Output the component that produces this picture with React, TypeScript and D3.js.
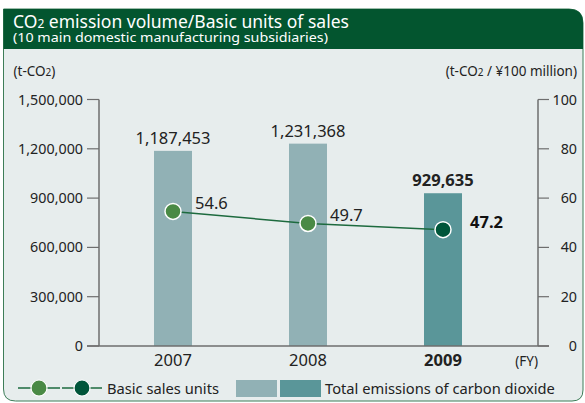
import React from "react";
import * as d3 from "d3";

const years = ["2007", "2008", "2009"];
const emissions = [1187453, 1231368, 929635];
const basicUnits = [54.6, 49.7, 47.2];
const leftTicks = [0, 300000, 600000, 900000, 1200000, 1500000];
const rightTicks = [0, 20, 40, 60, 80, 100];

const W = 585;
const H = 403;
const FONT = "'Noto Sans', 'DejaVu Sans', sans-serif";
const HEADER = "#03552f";
const PANEL = "#e7eded";
const BAR_LIGHT = "#91b1b5";
const BAR_DARK = "#5a9699";
const DOT_LIGHT = "#4a8a45";
const DOT_DARK = "#00553a";
const LINE = "#1d6a3e";
const AXIS = "#6e6e6e";
const TEXT = "#222";

const plotLeft = 99;
const plotRight = 538;
const plotTop = 99.5;
const plotBottom = 346;

export default function App() {
  const x = d3.scalePoint<string>().domain(years).range([plotLeft + 74, plotRight - 95]);
  const yL = d3.scaleLinear().domain([0, 1500000]).range([plotBottom, plotTop]);
  const yR = d3.scaleLinear().domain([0, 100]).range([plotBottom, plotTop]);
  const fmt = d3.format(",");
  const barW = 38;
  const last = years.length - 1;

  const line = d3
    .line<number>()
    .x((_, i) => x(years[i]) as number)
    .y((d) => yR(d));

  const panelPath = `M3.5,9 H569 Q583,9 583,23 V390 Q583,401 572,401 H15.5 Q3.5,401 3.5,389 Z`;
  const headerPath = `M3.5,9 H569 Q583,9 583,23 V49 H3.5 Z`;

  return (
    <svg width={W} height={H} style={{ position: "absolute", left: 0, top: 0, background: "#fff" }} fontFamily={FONT}>
      <path d={panelPath} fill={PANEL} stroke="#3d7d58" strokeWidth={1} />
      <path d={headerPath} fill={HEADER} />
      <text x={13} y={28} fill="#fff" fontSize={17.5}>
        CO<tspan fontSize={12}>2</tspan> emission volume/Basic units of sales
      </text>
      <text x={13} y={42} fill="#fff" fontSize={12.5} textLength={315} lengthAdjust="spacingAndGlyphs">
        (10 main domestic manufacturing subsidiaries)
      </text>

      {/* unit labels */}
      <text x={13.5} y={75.5} fill={TEXT} fontSize={13.5}>
        (t-CO<tspan fontSize={10}>2</tspan>)
      </text>
      <text x={577} y={75.5} fill={TEXT} fontSize={13.5} textAnchor="end">
        (t-CO<tspan fontSize={10}>2</tspan> / ¥100 million)
      </text>

      {/* bars */}
      {years.map((yr, i) => (
        <rect
          key={yr}
          x={(x(yr) as number) - barW / 2}
          y={yL(emissions[i])}
          width={barW}
          height={plotBottom - yL(emissions[i])}
          fill={i === last ? BAR_DARK : BAR_LIGHT}
        />
      ))}
      {years.map((yr, i) => (
        <text
          key={"bl" + yr}
          x={x(yr) as number}
          y={yL(emissions[i]) - 7}
          textAnchor="middle"
          fontSize={16.5}
          fontWeight={i === last ? "bold" : "normal"}
          fill={TEXT}
        >
          {fmt(emissions[i])}
        </text>
      ))}

      {/* left axis */}
      <line x1={plotLeft} x2={plotLeft} y1={plotTop} y2={plotBottom} stroke={AXIS} strokeWidth={1.5} />
      {leftTicks.map((t) => (
        <g key={"lt" + t}>
          <line x1={plotLeft - 12} x2={plotLeft} y1={yL(t)} y2={yL(t)} stroke={AXIS} strokeWidth={1.2} />
          <text x={plotLeft - 16} y={yL(t) + 5} textAnchor="end" fontSize={14.3} fill={TEXT}>
            {fmt(t)}
          </text>
        </g>
      ))}

      {/* right axis */}
      <line x1={plotRight} x2={plotRight} y1={plotTop} y2={plotBottom} stroke={AXIS} strokeWidth={1.5} />
      {rightTicks.map((t) => (
        <g key={"rt" + t}>
          <line x1={plotRight} x2={plotRight + 11} y1={yR(t)} y2={yR(t)} stroke={AXIS} strokeWidth={1.2} />
          <text x={577} y={yR(t) + 5} textAnchor="end" fontSize={14.3} fill={TEXT}>
            {t}
          </text>
        </g>
      ))}

      {/* x axis */}
      <line x1={plotLeft - 12} x2={plotRight + 11} y1={plotBottom} y2={plotBottom} stroke={AXIS} strokeWidth={1.5} />
      {years.map((yr, i) => (
        <text
          key={"xl" + yr}
          x={x(yr) as number}
          y={366}
          textAnchor="middle"
          fontSize={16.5}
          fontWeight={i === last ? "bold" : "normal"}
          fill={TEXT}
        >
          {yr}
        </text>
      ))}
      <text x={plotRight} y={366} textAnchor="end" fontSize={13.5} fill={TEXT}>
        (FY)
      </text>

      {/* line */}
      <path d={line(basicUnits) || ""} fill="none" stroke={LINE} strokeWidth={1.5} />
      {years.map((yr, i) => (
        <circle
          key={"c" + yr}
          cx={x(yr) as number}
          cy={yR(basicUnits[i])}
          r={8}
          fill={i === last ? DOT_DARK : DOT_LIGHT}
          stroke="#fff"
          strokeWidth={1.5}
        />
      ))}
      {years.map((yr, i) => (
        <text
          key={"ll" + yr}
          x={(x(yr) as number) + (i === last ? 27 : 22)}
          y={yR(basicUnits[i]) - 2}
          fontSize={16.5}
          fontWeight={i === last ? "bold" : "normal"}
          fill={i === last ? "#111" : TEXT}
        >
          {basicUnits[i]}
        </text>
      ))}

      {/* legend */}
      <line x1={18} x2={60} y1={388} y2={388} stroke={LINE} strokeWidth={1.5} />
      <line x1={62} x2={102} y1={388} y2={388} stroke={LINE} strokeWidth={1.5} />
      <circle cx={39} cy={388} r={8} fill={DOT_LIGHT} stroke="#fff" strokeWidth={1.2} />
      <circle cx={82} cy={388} r={8} fill={DOT_DARK} stroke="#fff" strokeWidth={1.2} />
      <text x={107} y={394} fontSize={14.7} fill={TEXT}>
        Basic sales units
      </text>
      <rect x={236} y={380} width={41} height={17} fill={BAR_LIGHT} />
      <rect x={280} y={380} width={41} height={17} fill={BAR_DARK} />
      <text x={325} y={394} fontSize={14.7} fill={TEXT}>
        Total emissions of carbon dioxide
      </text>
    </svg>
  );
}
